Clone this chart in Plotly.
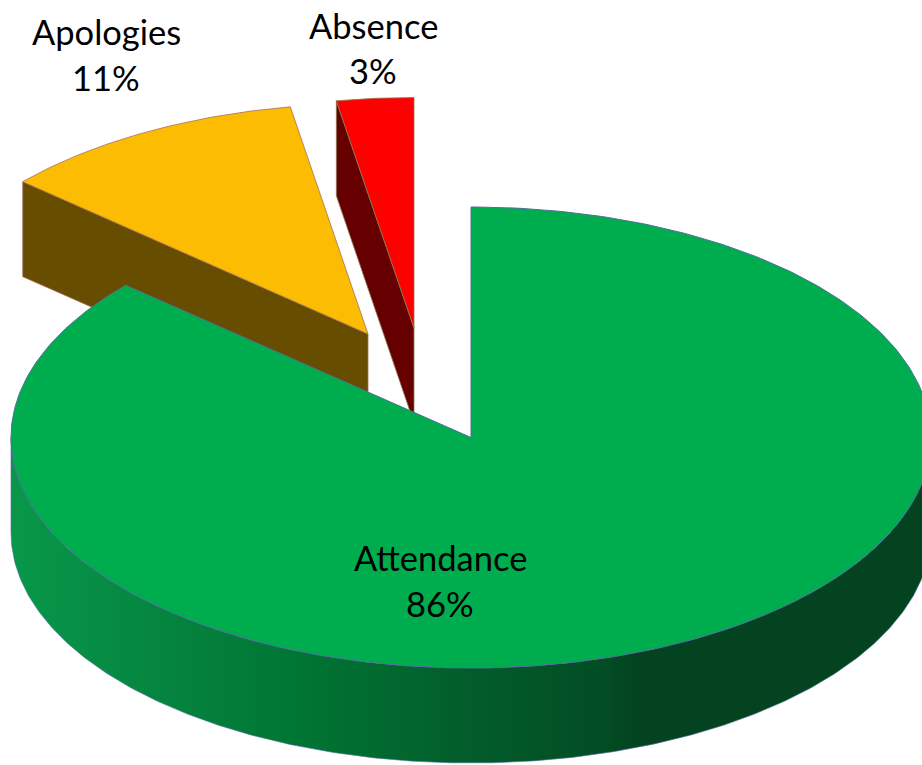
import numpy as np
import plotly.graph_objects as go

# ---- data ----
categories = ["Attendance", "Apologies", "Absence"]
values = [86.49, 10.81, 2.70]
top_colors = ["#00AD4E", "#FCBC02", "#FF0000"]
side_colors = ["#03431F", "#664D00", "#660000"]
edge_colors = ["#4F6F9C", "#A5705A", "#8A7A50"]

# ---- drawing parameters ----
W, H = 922, 765
RX, RY, DEPTH = 460.0, 230.5, 95.0
apex = {"Attendance": (471.0, 437.5), "Apologies": (368.0, 334.0), "Absence": (414.0, 328.0)}
label_pos = {"Attendance": (440, 557, 603), "Apologies": (106, 31, 77), "Absence": (373, 25, 70)}
grad_x = [11, 150, 300, 450, 600, 640, 931]
grad_rgb = [(8, 152, 74), (5, 134, 64), (0, 117, 51), (2, 95, 44), (2, 77, 36), (3, 67, 31), (3, 67, 31)]

fig = go.Figure()


def poly(xs, ys, fill, line=None, width=0.8):
    fig.add_trace(go.Scatter(
        x=np.asarray(xs), y=np.asarray(ys), mode="lines", fill="toself", fillcolor=fill,
        line=dict(color=line or fill, width=width), hoverinfo="skip", showlegend=False))


def ell(cx, cy, ang):
    """ang in degrees clockwise from 12 o'clock."""
    a = np.radians(ang)
    return cx + RX * np.sin(a), cy - RY * np.cos(a)


ends = np.cumsum(values) / np.sum(values) * 360.0
starts = np.concatenate([[0.0], ends[:-1]])
spans = {c: (s, e) for c, s, e in zip(categories, starts, ends)}
cols = {c: (t, s, g) for c, t, s, g in zip(categories, top_colors, side_colors, edge_colors)}

# exploded wedges: cut face first, then top
for name in ["Apologies", "Absence"]:
    s, e = spans[name]
    cx, cy = apex[name]
    top, side, edge = cols[name]
    px, py = ell(cx, cy, s)
    poly([px, cx, cx, px, px], [py, cy, cy + DEPTH, py + DEPTH, py], side, edge)
    t = np.linspace(s, e, 60)
    ax, ay = ell(cx, cy, t)
    poly(np.r_[cx, ax, cx], np.r_[cy, ay, cy], top, edge)

# main wedge: rim with a horizontal shading gradient
cx, cy = apex["Attendance"]
s, e = spans["Attendance"]
rim = np.linspace(270, 90, 300)
rx_top, ry_top = ell(cx, cy, rim)
rx_bot, ry_bot = ell(cx, cy + DEPTH, rim[::-1])
span = grad_x[-1] - grad_x[0]
scale = [[(x - grad_x[0]) / span, "rgb(%d,%d,%d)" % c] for x, c in zip(grad_x, grad_rgb)]
fig.add_trace(go.Scatter(
    x=np.r_[rx_top, rx_bot, rx_top[0]], y=np.r_[ry_top, ry_bot, ry_top[0]],
    mode="lines", fill="toself",
    fillgradient=dict(type="horizontal", colorscale=scale),
    line=dict(color="#4F6F9C", width=0.6), hoverinfo="skip", showlegend=False))

# main wedge top
t = np.linspace(s, e, 400)
ax, ay = ell(cx, cy, t)
poly(np.r_[cx, ax, cx], np.r_[cy, ay, cy], cols["Attendance"][0], cols["Attendance"][2], 1)

# labels
for name, v in zip(categories, values):
    lx, y1, y2 = label_pos[name]
    for txt, yy in ((name, y1), ("%d%%" % round(v), y2)):
        fig.add_annotation(x=lx, y=yy, text=txt, showarrow=False, xanchor="center", yanchor="middle",
                           font=dict(family="Lato, Carlito, sans-serif", size=34.5, color="#000000"))

fig.update_layout(
    width=W, height=H, autosize=False, margin=dict(l=0, r=0, t=0, b=0),
    paper_bgcolor="white", plot_bgcolor="white", showlegend=False,
    xaxis=dict(range=[0, W], visible=False, fixedrange=True),
    yaxis=dict(range=[H, 0], visible=False, fixedrange=True),
)
page_css = ("var st=document.createElement('style');"
            "st.textContent='html,body{margin:0;padding:0;overflow:hidden}"
            "svg text{font-variant-ligatures:none}';"
            "document.head.appendChild(st);")
fig.write_html("out.html", config={"displayModeBar": False}, post_script=page_css)
